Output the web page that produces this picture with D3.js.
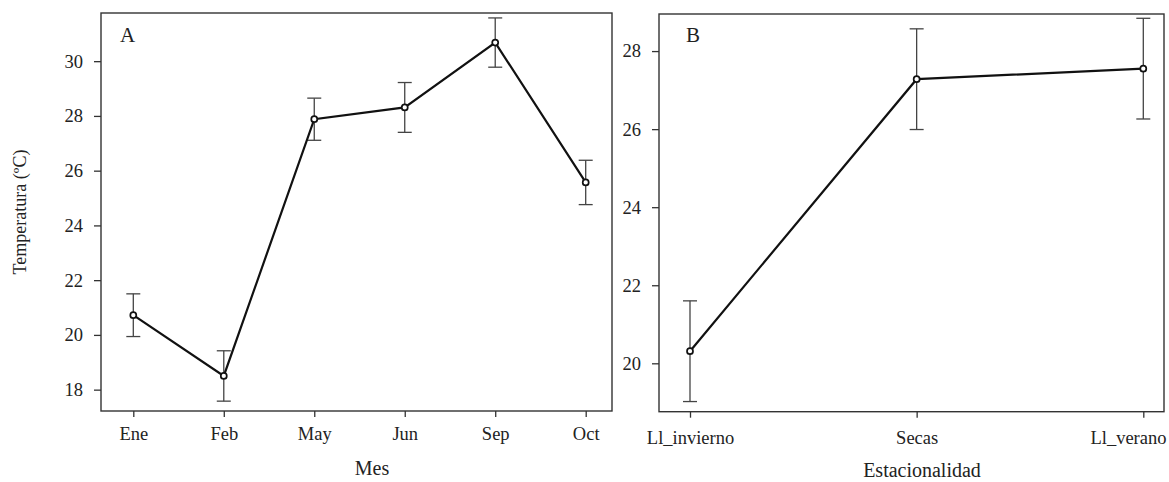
<!DOCTYPE html>
<html>
<head>
<meta charset="utf-8">
<script src="https://cdn.jsdelivr.net/npm/d3@7"></script>
<style>
  html, body { margin: 0; padding: 0; background: #fff; }
  svg { display: block; }
  text { font-family: "Liberation Serif", "DejaVu Serif", serif; fill: #222; }
</style>
</head>
<body>
<svg id="chart" width="1169" height="482"></svg>
<script>
// Panel A: monthly mean temperature with error bars
const months = ["Ene", "Feb", "May", "Jun", "Sep", "Oct"];
const monthMean = [20.72, 18.50, 27.88, 28.31, 30.68, 25.57];
const monthErr  = [0.78, 0.92, 0.77, 0.91, 0.90, 0.81];
const monthTicks = [18, 20, 22, 24, 26, 28, 30];

// Panel B: seasonal mean temperature with error bars
const seasons = ["Ll_invierno", "Secas", "Ll_verano"];
const seasonMean = [20.31, 27.28, 27.55];
const seasonErr  = [1.29, 1.29, 1.29];
const seasonTicks = [20, 22, 24, 26, 28];

const svg = d3.select("#chart");

function panel(cfg) {
  const g = svg.append("g");
  const x = d3.scalePoint().domain(cfg.cats).range(cfg.xRange);
  const y = d3.scaleLinear().domain(cfg.yDomain).range([cfg.box.bottom, cfg.box.top]);

  // frame
  g.append("rect")
    .attr("x", cfg.box.left).attr("y", cfg.box.top)
    .attr("width", cfg.box.right - cfg.box.left)
    .attr("height", cfg.box.bottom - cfg.box.top)
    .attr("fill", "none").attr("stroke", "#333").attr("stroke-width", 1.4);

  // y axis
  const ya = g.append("g")
    .attr("transform", `translate(${cfg.box.left},0)`)
    .call(d3.axisLeft(y).tickValues(cfg.ticks).tickSize(7).tickPadding(11).tickFormat(d3.format("d")));
  ya.select(".domain").remove();
  ya.selectAll("line").attr("stroke", "#333").attr("stroke-width", 1.3);
  ya.selectAll("text").attr("font-size", 18.5).attr("fill", "#222")
    .style("font-family", "Liberation Serif, serif");

  // x axis
  const xa = g.append("g")
    .attr("transform", `translate(0,${cfg.box.bottom})`)
    .call(d3.axisBottom(x).tickSize(6).tickPadding(cfg.xPad));
  xa.select(".domain").remove();
  xa.selectAll("line").attr("stroke", "#333").attr("stroke-width", 1.3);
  xa.selectAll("text").attr("font-size", 18.5).attr("fill", "#222")
    .style("font-family", "Liberation Serif, serif");
  // keep the last category label inside the frame's right edge
  if (cfg.endAlignLast) {
    xa.selectAll(".tick").filter((d, i, n) => i === n.length - 1)
      .select("text").attr("text-anchor", "end").attr("x", cfg.box.right + 2 - x(cfg.cats[cfg.cats.length - 1]));
  }

  const data = cfg.cats.map((c, i) => ({ c, m: cfg.mean[i], e: cfg.err[i] }));

  // error bars
  const eb = g.append("g").attr("stroke", "#444").attr("stroke-width", 1.3);
  data.forEach(d => {
    const cx = x(d.c);
    eb.append("line").attr("x1", cx).attr("x2", cx).attr("y1", y(d.m + d.e)).attr("y2", y(d.m - d.e));
    eb.append("line").attr("x1", cx - 7).attr("x2", cx + 7).attr("y1", y(d.m + d.e)).attr("y2", y(d.m + d.e));
    eb.append("line").attr("x1", cx - 7).attr("x2", cx + 7).attr("y1", y(d.m - d.e)).attr("y2", y(d.m - d.e));
  });

  // mean line
  g.append("path")
    .datum(data)
    .attr("fill", "none").attr("stroke", "#111").attr("stroke-width", 2.2)
    .attr("d", d3.line().x(d => x(d.c)).y(d => y(d.m)));

  // points
  g.selectAll("circle.pt").data(data).join("circle")
    .attr("class", "pt")
    .attr("cx", d => x(d.c)).attr("cy", d => y(d.m)).attr("r", 3)
    .attr("fill", "#fff").attr("stroke", "#111").attr("stroke-width", 1.7);

  // panel letter
  g.append("text").attr("x", cfg.letterX).attr("y", 42)
    .attr("font-size", 21).text(cfg.letter);

  // x title
  g.append("text").attr("x", cfg.xTitleX).attr("y", cfg.xTitleY)
    .attr("text-anchor", "middle").attr("font-size", 20).text(cfg.xTitle);
}

panel({
  cats: months, mean: monthMean, err: monthErr, ticks: monthTicks,
  box: { left: 101, right: 612, top: 13, bottom: 411 },
  xRange: [133.3, 585.7], yDomain: [17.22, 31.76],
  letter: "A", letterX: 120, xTitle: "Mes", xTitleX: 372, xTitleY: 475, xPad: 10,
  endAlignLast: false
});

panel({
  cats: seasons, mean: seasonMean, err: seasonErr, ticks: seasonTicks,
  box: { left: 659, right: 1164, top: 14, bottom: 411.7 },
  xRange: [690, 1143.3], yDomain: [18.76, 28.95],
  letter: "B", letterX: 686, xTitle: "Estacionalidad", xTitleX: 922, xTitleY: 477, xPad: 13,
  endAlignLast: true
});

// shared y title
svg.append("text")
  .attr("transform", "translate(26,212) rotate(-90)")
  .attr("text-anchor", "middle").attr("font-size", 18)
  .text("Temperatura (ºC)");
</script>
</body>
</html>
